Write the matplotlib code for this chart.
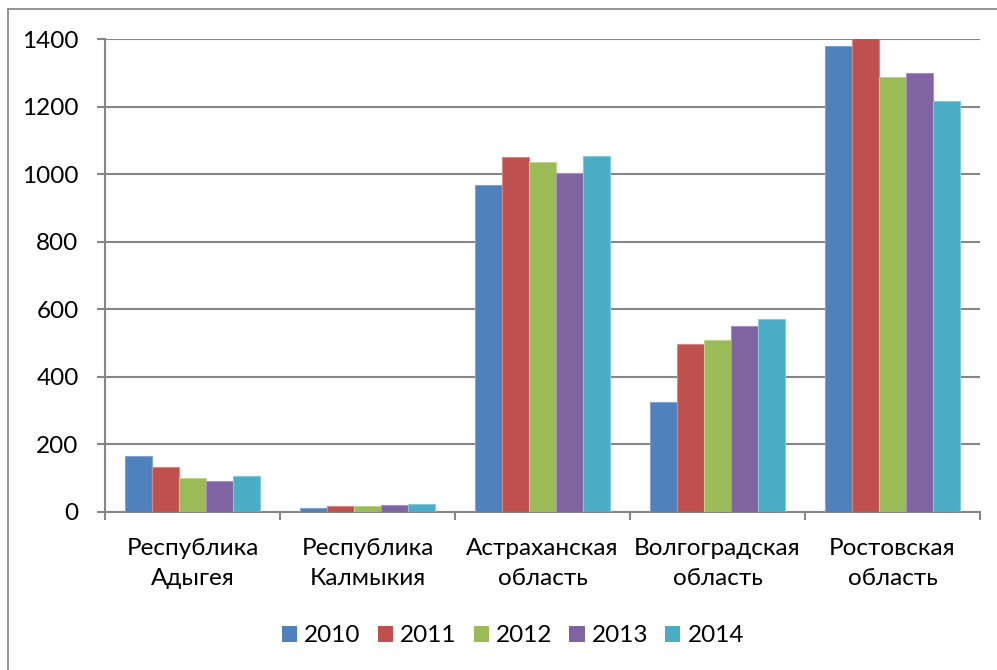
import matplotlib.pyplot as plt
import numpy as np
from matplotlib.patches import Patch
from matplotlib.lines import Line2D

plt.rcParams['font.family'] = ['Lato', 'DejaVu Sans']

# Регионы и значения по годам
regions = ["Республика\nАдыгея", "Республика\nКалмыкия", "Астраханская\nобласть",
           "Волгоградская\nобласть", "Ростовская\nобласть"]
years = ["2010", "2011", "2012", "2013", "2014"]
v2010 = [166, 11, 968, 325, 1380]
v2011 = [134, 18, 1051, 498, 1420]
v2012 = [100, 18, 1035, 508, 1288]
v2013 = [92, 21, 1004, 551, 1299]
v2014 = [106, 24, 1055, 570, 1216]
yticks = [0, 200, 400, 600, 800, 1000, 1200, 1400]

colors = ["#4F81BD", "#C0504D", "#9BBB59", "#8064A2", "#4BACC6"]
edges = ["#7FA3D3", "#D88583", "#BBD38A", "#A690C0", "#82C8DA"]
fs = 17.5

fig = plt.figure(figsize=(9.97, 6.70), dpi=100)
ax = fig.add_axes([105 / 997, 158 / 670, 875 / 997, 473 / 670])

series = [v2010, v2011, v2012, v2013, v2014]
x = np.arange(len(regions))
w = 1 / 6.5
for i, vals in enumerate(series):
    ax.bar(x - 2 * w + i * w + 0.5, vals, width=w, color=colors[i],
           edgecolor=edges[i], linewidth=0.8, zorder=3)

ax.set_xlim(0, len(regions))
ax.set_ylim(0, 1400)
ax.set_yticks(yticks)
ax.yaxis.grid(True, color="#868686", linewidth=1.5, zorder=1)
ax.set_axisbelow(True)

# Подписи категорий по центрам, засечки на границах
ax.set_xticks(np.arange(len(regions) + 1))
ax.set_xticklabels([])
ax.set_xticks(x + 0.5, minor=True)
ax.set_xticklabels(regions, minor=True, fontsize=fs, linespacing=1.5)
ax.tick_params(axis='x', which='minor', length=0, pad=19)
ax.tick_params(axis='x', which='major', length=6, width=1.5, color="#868686")
ax.tick_params(axis='y', length=6, width=1.5, color="#868686", labelsize=fs, pad=13)

for s in ["top", "right"]:
    ax.spines[s].set_visible(False)
for s in ["left", "bottom"]:
    ax.spines[s].set_color("#868686")
    ax.spines[s].set_linewidth(1.5)

handles = [Patch(facecolor=c, label=y) for c, y in zip(colors, years)]
fig.legend(handles=handles, loc="center", bbox_to_anchor=(513 / 997, 1 - 636 / 670),
           ncol=5, frameon=False, fontsize=fs, handlelength=0.62, handleheight=0.62,
           handletextpad=0.3, columnspacing=0.7)

# Рамка вокруг диаграммы
fig.add_artist(Line2D([8 / 997, 8 / 997], [0, 1 - 9 / 670], transform=fig.transFigure,
                      color="#8c8c8c", linewidth=1.3))
fig.add_artist(Line2D([8 / 997, 1], [1 - 9 / 670, 1 - 9 / 670], transform=fig.transFigure,
                      color="#8c8c8c", linewidth=1.3))

fig.savefig("out.png", dpi=100)
